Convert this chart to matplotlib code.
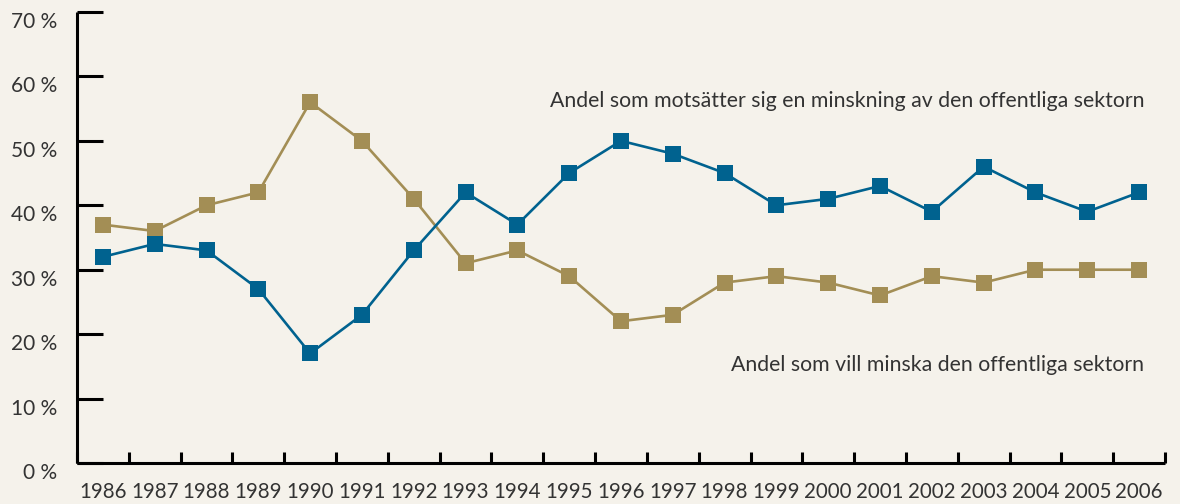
import numpy as np
import matplotlib
matplotlib.use("Agg")
import matplotlib.pyplot as plt
from matplotlib.ticker import MultipleLocator, FuncFormatter

# ---------------------------------------------------------------------------
# Data (percent)
# ---------------------------------------------------------------------------
years = list(range(1986, 2007))

# Andel som motsätter sig en minskning av den offentliga sektorn
oppose_cut = [32, 34, 33, 27, 17, 23, 33, 42, 37, 45, 50,
              48, 45, 40, 41, 43, 39, 46, 42, 39, 42]

# Andel som vill minska den offentliga sektorn
want_cut = [37, 36, 40, 42, 56, 50, 41, 31, 33, 29, 22,
            23, 28, 29, 28, 26, 29, 28, 30, 30, 30]

label_oppose = "Andel som motsätter sig en minskning av den offentliga sektorn"
label_want = "Andel som vill minska den offentliga sektorn"

# ---------------------------------------------------------------------------
# Style
# ---------------------------------------------------------------------------
BG = "#f5f2eb"
BLUE = "#00628f"
GOLD = "#a38e55"
TEXT = "#333333"

plt.rcParams['font.family'] = ['Lato', 'DejaVu Sans']

fig = plt.figure(figsize=(11.8, 5.04), dpi=100, facecolor=BG)
ax = fig.add_axes([77 / 1180, 41 / 504, (1165 - 77) / 1180, (463 - 12) / 504])
ax.set_facecolor(BG)

ax.plot(years, want_cut, color=GOLD, lw=1.9, marker='s', ms=12,
        markeredgewidth=0, zorder=3)
ax.plot(years, oppose_cut, color=BLUE, lw=1.9, marker='s', ms=12,
        markeredgewidth=0, zorder=4)

ax.set_xlim(1985.5, 2006.5)
ax.set_ylim(0, 70)

# spines
for side in ('top', 'right'):
    ax.spines[side].set_visible(False)
for side in ('left', 'bottom'):
    ax.spines[side].set_linewidth(2.2)
    ax.spines[side].set_color('black')
    ax.spines[side].set_capstyle('butt')

# y ticks
ax.yaxis.set_major_locator(MultipleLocator(10))
ax.yaxis.set_major_formatter(FuncFormatter(lambda v, p: f"{int(v)} %"))
ax.tick_params(axis='y', direction='in', length=18.7, width=2.2,
               pad=14, labelsize=15, labelcolor=TEXT)
for lab in ax.get_yticklabels():
    lab.set_va('top')

# x ticks: labels at years, tick marks between years
ax.set_xticks(years)
ax.set_xticklabels([str(y) for y in years])
ax.set_xticks(np.arange(1985.5, 2007, 1.0), minor=True)
ax.tick_params(axis='x', which='major', length=0, pad=14,
               labelsize=14.8, labelcolor=TEXT)
ax.tick_params(axis='x', which='minor', direction='in', length=8, width=2.2)

# series labels
ax.text(2006.1, 56.2, label_oppose, ha='right', va='center',
        fontsize=15.3, color=TEXT)
ax.text(2006.1, 15.2, label_want, ha='right', va='center',
        fontsize=15.3, color=TEXT)

fig.savefig("out.png", dpi=100, facecolor=BG)
